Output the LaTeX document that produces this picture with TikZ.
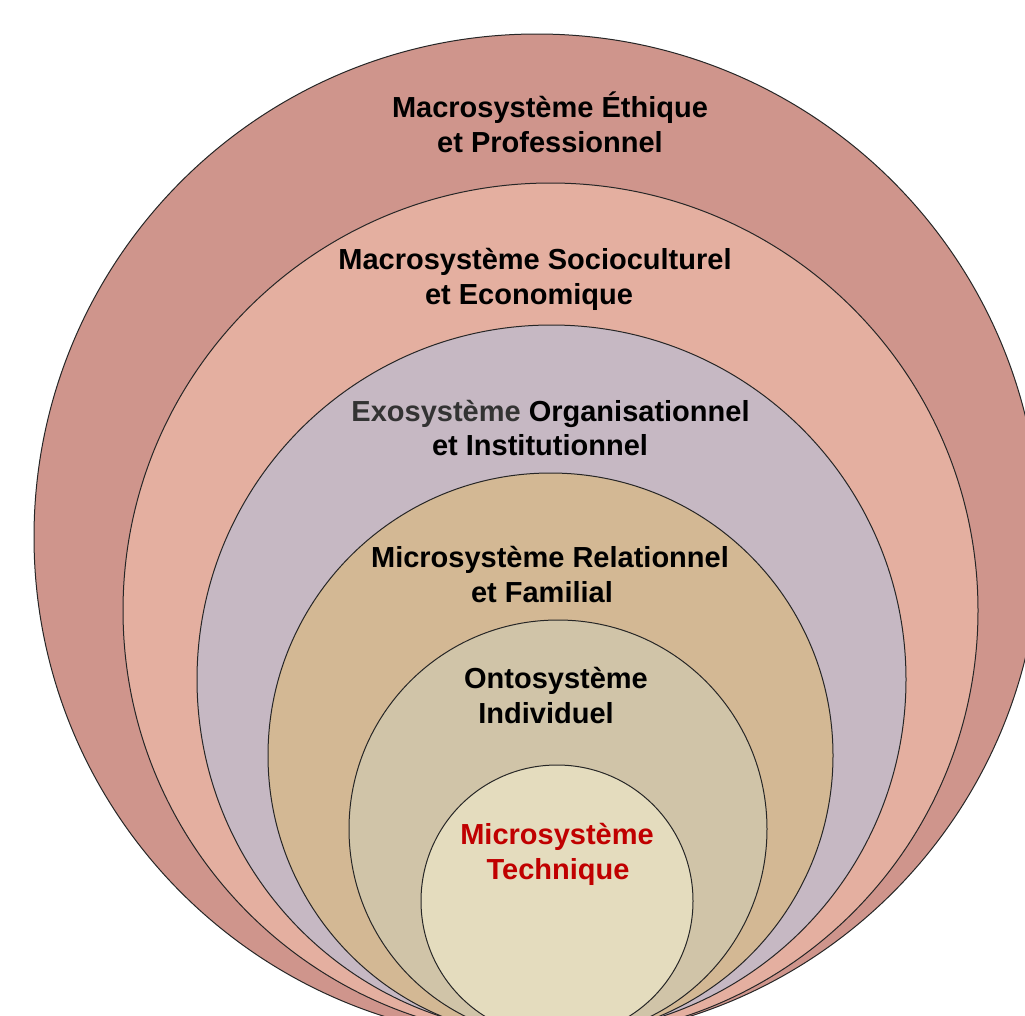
\documentclass[tikz,border=0pt]{standalone}
\usepackage{fontspec}
\setmainfont{Liberation Sans}
\definecolor{cA}{HTML}{CF958C}
\definecolor{cB}{HTML}{E4AFA0}
\definecolor{cC}{HTML}{C6B8C3}
\definecolor{cD}{HTML}{D3B894}
\definecolor{cE}{HTML}{D0C4A8}
\definecolor{cF}{HTML}{E4DCBE}
\definecolor{redtxt}{HTML}{C00000}
\definecolor{graytxt}{HTML}{333333}
\tikzset{
  ring/.style={draw=black!85, line width=1pt},
  lbl/.style={anchor=base, inner sep=0pt, font=\fontsize{29}{35}\selectfont\bfseries}
}
\begin{document}
\begin{tikzpicture}[x=1pt,y=-1pt]
\useasboundingbox (0,0) rectangle (1025,1015);
\clip (0,0) rectangle (1025,1015);
\fill[white] (0,0) rectangle (1025,1015);
\filldraw[ring, fill=cA] (537,537) circle (503pt);
\filldraw[ring, fill=cB] (550.5,610.5) circle (427.5pt);
\filldraw[ring, fill=cC] (551.5,679.5) circle (354.5pt);
\filldraw[ring, fill=cD] (550.5,755.5) circle (282.5pt);
\filldraw[ring, fill=cE] (558,829) circle (209pt);
\filldraw[ring, fill=cF] (557,901) circle (136pt);

\node[lbl] (t1a) at (550,117) {Macrosystème Éthique};
\node[lbl] (t1b) at (550,152) {et Professionnel};
\node[lbl] (t2a) at (535,269) {Macrosystème Socioculturel};
\node[lbl] (t2b) at (529,304) {et Economique};
\node[lbl] (t3a) at (550.5,421) {\textcolor{graytxt}{Exosystème} Organisationnel};
\node[lbl] (t3b) at (540,455) {et Institutionnel};
\node[lbl] (t4a) at (550,567) {Microsystème Relationnel};
\node[lbl] (t4b) at (542,602) {et Familial};
\node[lbl] (t5a) at (556,688) {Ontosystème};
\node[lbl] (t5b) at (546,723) {Individuel};
\node[lbl, text=redtxt] (t6a) at (557,844) {Microsystème};
\node[lbl, text=redtxt] (t6b) at (558,879) {Technique};
\end{tikzpicture}
\end{document}
